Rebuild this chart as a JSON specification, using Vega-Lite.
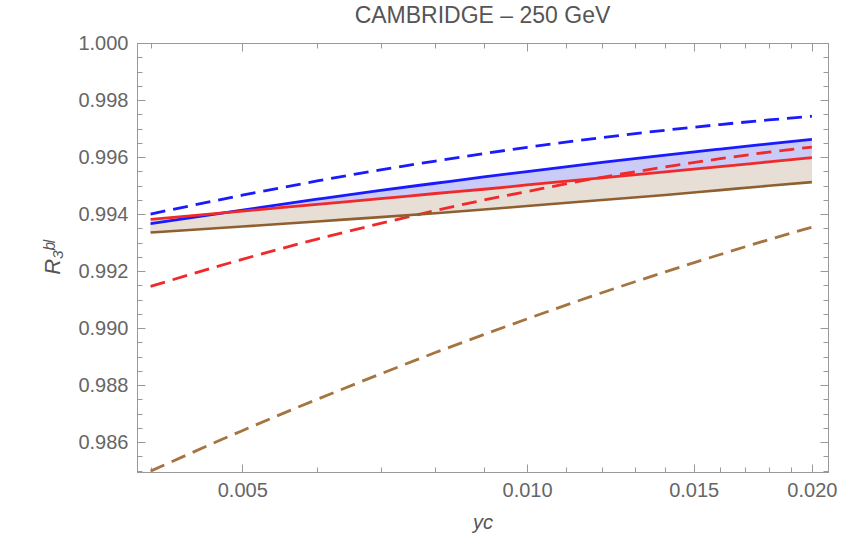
{
  "$schema": "https://vega.github.io/schema/vega-lite/v6.json",
  "width": 691,
  "height": 429,
  "autosize": {"type": "none"},
  "padding": {"left": 137, "top": 43, "right": 25, "bottom": 72},
  "title": {"text": "CAMBRIDGE – 250 GeV", "font": "Liberation Sans", "fontSize": 23, "fontWeight": "normal", "color": "#555555", "anchor": "middle", "baseline": "bottom", "offset": -18},
  "config": {
    "view": {"stroke": "#999999", "strokeWidth": 1},
    "axis": {"grid": false, "domainColor": "#999999", "tickColor": "#999999", "tickWidth": 1, "labelFont": "Liberation Sans", "labelFontSize": 20, "labelColor": "#666666", "titleFont": "Liberation Sans", "titleColor": "#555555", "titleFontWeight": "normal", "labelFlush": false, "labelOverlap": false}
  },
  "data": {"values": [
    {"yc": 0.004, "blueDashed": 0.99400, "blueSolid": 0.99366, "redSolid": 0.99381, "redDashed": 0.99146, "brownSolid": 0.99335, "brownDashed": 0.98498},
    {"yc": 0.005, "blueDashed": 0.99466, "blueSolid": 0.99414, "redSolid": 0.99410, "redDashed": 0.99241, "brownSolid": 0.99356, "brownDashed": 0.98640},
    {"yc": 0.006, "blueDashed": 0.99516, "blueSolid": 0.99452, "redSolid": 0.99434, "redDashed": 0.99312, "brownSolid": 0.99374, "brownDashed": 0.98750},
    {"yc": 0.007, "blueDashed": 0.99555, "blueSolid": 0.99483, "redSolid": 0.99454, "redDashed": 0.99367, "brownSolid": 0.99389, "brownDashed": 0.98839},
    {"yc": 0.008, "blueDashed": 0.99586, "blueSolid": 0.99508, "redSolid": 0.99472, "redDashed": 0.99412, "brownSolid": 0.99403, "brownDashed": 0.98914},
    {"yc": 0.009, "blueDashed": 0.99612, "blueSolid": 0.99530, "redSolid": 0.99487, "redDashed": 0.99449, "brownSolid": 0.99416, "brownDashed": 0.98977},
    {"yc": 0.010, "blueDashed": 0.99634, "blueSolid": 0.99549, "redSolid": 0.99502, "redDashed": 0.99479, "brownSolid": 0.99428, "brownDashed": 0.99032},
    {"yc": 0.012, "blueDashed": 0.99668, "blueSolid": 0.99581, "redSolid": 0.99527, "redDashed": 0.99529, "brownSolid": 0.99449, "brownDashed": 0.99124},
    {"yc": 0.014, "blueDashed": 0.99694, "blueSolid": 0.99607, "redSolid": 0.99548, "redDashed": 0.99565, "brownSolid": 0.99467, "brownDashed": 0.99197},
    {"yc": 0.016, "blueDashed": 0.99714, "blueSolid": 0.99628, "redSolid": 0.99566, "redDashed": 0.99594, "brownSolid": 0.99484, "brownDashed": 0.99258},
    {"yc": 0.018, "blueDashed": 0.99730, "blueSolid": 0.99646, "redSolid": 0.99583, "redDashed": 0.99617, "brownSolid": 0.99499, "brownDashed": 0.99310},
    {"yc": 0.020, "blueDashed": 0.99743, "blueSolid": 0.99662, "redSolid": 0.99598, "redDashed": 0.99635, "brownSolid": 0.99512, "brownDashed": 0.99354}
  ]},
  "resolve": {"axis": {"x": "independent", "y": "independent"}},
  "layer": [
    {
      "mark": {"type": "area", "color": "#cacbf6", "interpolate": "monotone", "clip": true},
      "encoding": {
        "x": {"field": "yc", "type": "quantitative", "scale": {"type": "log", "domain": [0.00387, 0.0208], "nice": false},
              "axis": {"orient": "bottom", "values": [0.005, 0.01, 0.015, 0.02], "format": ".3f", "tickSize": -8, "labelPadding": 16, "title": "yc", "titleFontStyle": "italic", "titleFontSize": 20, "titlePadding": 12}},
        "y": {"field": "blueSolid", "type": "quantitative", "scale": {"domain": [0.98495, 1.0], "nice": false, "zero": false},
              "axis": {"orient": "left", "values": [0.986, 0.988, 0.99, 0.992, 0.994, 0.996, 0.998, 1.0], "format": ".3f", "tickSize": -8, "labelPadding": 17, "title": "R₃ᵇˡ", "titleFontStyle": "italic", "titleFontSize": 22, "titlePadding": 13}},
        "y2": {"field": "brownSolid"}
      }
    },
    {
      "mark": {"type": "area", "color": "#e7dfd6", "interpolate": "monotone", "clip": true},
      "encoding": {
        "x": {"field": "yc", "type": "quantitative", "scale": {"type": "log", "domain": [0.00387, 0.0208], "nice": false},
              "axis": {"orient": "bottom", "values": [0.004, 0.006, 0.007, 0.008, 0.009, 0.011, 0.012, 0.013, 0.014, 0.016, 0.017, 0.018, 0.019], "labels": false, "tickSize": -5, "title": null}},
        "y": {"field": "redSolid", "type": "quantitative", "scale": {"domain": [0.98495, 1.0], "nice": false, "zero": false},
              "axis": {"orient": "left", "values": [0.985, 0.9855, 0.9865, 0.987, 0.9875, 0.9885, 0.989, 0.9895, 0.9905, 0.991, 0.9915, 0.9925, 0.993, 0.9935, 0.9945, 0.995, 0.9955, 0.9965, 0.997, 0.9975, 0.9985, 0.999, 0.9995], "labels": false, "tickSize": -5, "title": null}},
        "y2": {"field": "brownSolid"}
      }
    },
    {
      "mark": {"type": "line", "color": "#1a1aff", "strokeWidth": 2.8, "strokeDash": [15, 8], "interpolate": "monotone", "clip": true},
      "encoding": {
        "x": {"field": "yc", "type": "quantitative", "scale": {"type": "log", "domain": [0.00387, 0.0208], "nice": false},
              "axis": {"orient": "top", "values": [0.005, 0.01, 0.015, 0.02], "labels": false, "tickSize": -8, "title": null}},
        "y": {"field": "blueDashed", "type": "quantitative", "scale": {"domain": [0.98495, 1.0], "nice": false, "zero": false},
              "axis": {"orient": "right", "values": [0.986, 0.988, 0.99, 0.992, 0.994, 0.996, 0.998, 1.0], "labels": false, "tickSize": -8, "title": null}}
      }
    },
    {
      "mark": {"type": "line", "color": "#1a1aff", "strokeWidth": 2.8, "interpolate": "monotone", "clip": true},
      "encoding": {
        "x": {"field": "yc", "type": "quantitative", "scale": {"type": "log", "domain": [0.00387, 0.0208], "nice": false},
              "axis": {"orient": "top", "values": [0.004, 0.006, 0.007, 0.008, 0.009, 0.011, 0.012, 0.013, 0.014, 0.016, 0.017, 0.018, 0.019], "labels": false, "tickSize": -5, "title": null}},
        "y": {"field": "blueSolid", "type": "quantitative", "scale": {"domain": [0.98495, 1.0], "nice": false, "zero": false},
              "axis": {"orient": "right", "values": [0.985, 0.9855, 0.9865, 0.987, 0.9875, 0.9885, 0.989, 0.9895, 0.9905, 0.991, 0.9915, 0.9925, 0.993, 0.9935, 0.9945, 0.995, 0.9955, 0.9965, 0.997, 0.9975, 0.9985, 0.999, 0.9995], "labels": false, "tickSize": -5, "title": null}}
      }
    },
    {
      "mark": {"type": "line", "color": "#f02a2a", "strokeWidth": 2.8, "interpolate": "monotone", "clip": true},
      "encoding": {
        "x": {"field": "yc", "type": "quantitative", "scale": {"type": "log", "domain": [0.00387, 0.0208], "nice": false}, "axis": null},
        "y": {"field": "redSolid", "type": "quantitative", "scale": {"domain": [0.98495, 1.0], "nice": false, "zero": false}, "axis": null}
      }
    },
    {
      "mark": {"type": "line", "color": "#f02a2a", "strokeWidth": 2.8, "strokeDash": [15, 8], "interpolate": "monotone", "clip": true},
      "encoding": {
        "x": {"field": "yc", "type": "quantitative", "scale": {"type": "log", "domain": [0.00387, 0.0208], "nice": false}, "axis": null},
        "y": {"field": "redDashed", "type": "quantitative", "scale": {"domain": [0.98495, 1.0], "nice": false, "zero": false}, "axis": null}
      }
    },
    {
      "mark": {"type": "line", "color": "#8f5f30", "strokeWidth": 2.6, "interpolate": "monotone", "clip": true},
      "encoding": {
        "x": {"field": "yc", "type": "quantitative", "scale": {"type": "log", "domain": [0.00387, 0.0208], "nice": false}, "axis": null},
        "y": {"field": "brownSolid", "type": "quantitative", "scale": {"domain": [0.98495, 1.0], "nice": false, "zero": false}, "axis": null}
      }
    },
    {
      "mark": {"type": "line", "color": "#a57440", "strokeWidth": 2.8, "strokeDash": [15, 8], "interpolate": "monotone", "clip": true},
      "encoding": {
        "x": {"field": "yc", "type": "quantitative", "scale": {"type": "log", "domain": [0.00387, 0.0208], "nice": false}, "axis": null},
        "y": {"field": "brownDashed", "type": "quantitative", "scale": {"domain": [0.98495, 1.0], "nice": false, "zero": false}, "axis": null}
      }
    }
  ]
}
